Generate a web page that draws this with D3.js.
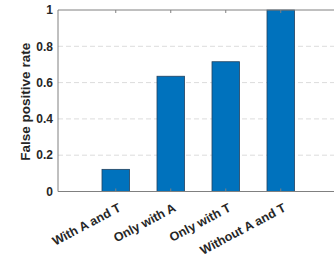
<!DOCTYPE html>
<html><head><meta charset="utf-8">
<script src="https://cdn.jsdelivr.net/npm/d3@7"></script>
<style>body{margin:0;background:#fff;}svg{display:block;font-family:"Liberation Sans",Arial,sans-serif;}</style>
</head><body>
<svg id="c" width="334" height="262"></svg>
<script>
const categories = ["With A and T", "Only with A", "Only with T", "Without A and T"];
const values = [0.122, 0.635, 0.715, 1.0];
const yTicks = [0, 0.2, 0.4, 0.6, 0.8, 1];
const yTickLabels = ["0", "0.2", "0.4", "0.6", "0.8", "1"];

const svg = d3.select("#c");
const L = 58, T = 10, B = 191.5, R = 336;
const x = d3.scaleLinear().domain([-0.05, 5]).range([L, L + 5.05 * 55]);
const y = d3.scaleLinear().domain([0, 1]).range([B, T]);
const bw = x(0.5) - x(0);

// grid
svg.append("g").selectAll("line").data(yTicks.filter(d => d > 0 && d < 1)).join("line")
  .attr("x1", L).attr("x2", R).attr("y1", d => y(d)).attr("y2", d => y(d))
  .attr("stroke", "#dcdcdc").attr("stroke-width", 1).attr("stroke-dasharray", "5,3");

// bars
svg.append("g").selectAll("rect").data(values).join("rect")
  .attr("x", (d, i) => x(i + 1) - bw / 2).attr("width", bw)
  .attr("y", d => y(d)).attr("height", d => y(0) - y(d))
  .attr("fill", "#0072BD").attr("stroke", "#21415f").attr("stroke-width", 0.8);

// axes box lines
const ax = svg.append("g").attr("stroke", "#808080").attr("stroke-width", 1).attr("fill", "none");
ax.append("line").attr("x1", L).attr("x2", L).attr("y1", T).attr("y2", B);
ax.append("line").attr("x1", L).attr("x2", R).attr("y1", B).attr("y2", B);
ax.append("line").attr("x1", L).attr("x2", R).attr("y1", T).attr("y2", T);

// x ticks (inside, bottom and top)
categories.forEach((c, i) => {
  ax.append("line").attr("x1", x(i + 1)).attr("x2", x(i + 1)).attr("y1", B).attr("y2", B - 3);
  ax.append("line").attr("x1", x(i + 1)).attr("x2", x(i + 1)).attr("y1", T).attr("y2", T + 3);
});

// y tick labels
svg.append("g").selectAll("text").data(yTicks).join("text")
  .attr("x", L - 5).attr("y", d => y(d)).attr("dy", "0.35em")
  .attr("text-anchor", "end").attr("font-size", 12).attr("font-weight", "bold").attr("fill", "#262626")
  .text((d, i) => yTickLabels[i]);

// x tick labels rotated
svg.append("g").selectAll("text").data(categories).join("text")
  .attr("transform", (d, i) => `translate(${x(i + 1) + 6},${B + 19}) rotate(-28)`)
  .attr("text-anchor", "end")
  .attr("font-size", 12.5).attr("font-weight", "bold").attr("fill", "#262626")
  .text(d => d);

// y label
svg.append("text").attr("transform", `translate(30,${(T + B) / 2 + 1}) rotate(-90)`)
  .attr("text-anchor", "middle").attr("font-size", 13.5).attr("font-weight", "bold").attr("fill", "#262626")
  .text("False positive rate");
</script>
</body></html>
